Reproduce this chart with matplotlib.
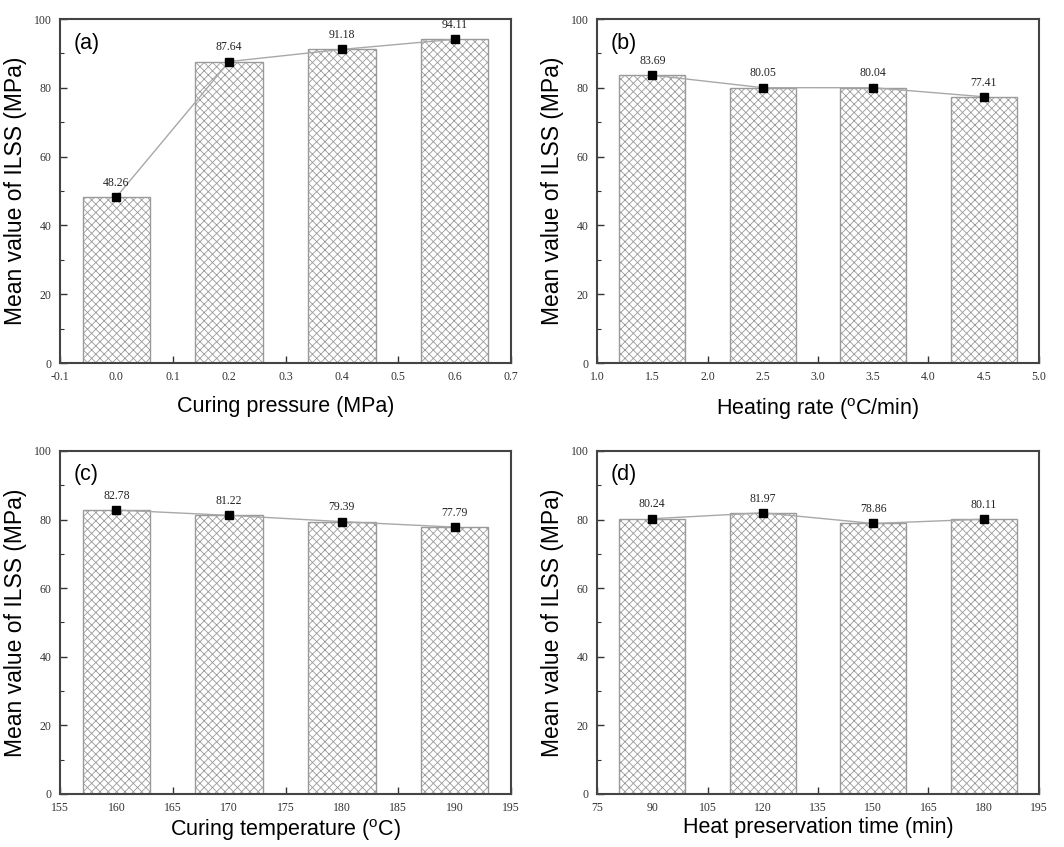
import matplotlib
matplotlib.use('Agg')
import matplotlib.pyplot as plt
from matplotlib.ticker import MultipleLocator, FormatStrFormatter

plt.rcParams['mathtext.fontset'] = 'custom'
plt.rcParams['mathtext.rm'] = 'Liberation Sans'
plt.rcParams['hatch.linewidth'] = 0.6

# data for the four panels
pressure = [0.0, 0.2, 0.4, 0.6]
ilss_pressure = [48.26, 87.64, 91.18, 94.11]

heat_rate = [1.5, 2.5, 3.5, 4.5]
ilss_rate = [83.69, 80.05, 80.04, 77.41]

cure_temp = [160, 170, 180, 190]
ilss_temp = [82.78, 81.22, 79.39, 77.79]

hold_time = [90, 120, 150, 180]
ilss_time = [80.24, 81.97, 78.86, 80.11]

panels = [
    ('(a)', pressure, ilss_pressure, 'Curing pressure (MPa)', (-0.1, 0.7), 0.1, 0.12, '%.1f'),
    ('(b)', heat_rate, ilss_rate, r'Heating rate ($^{\rm o}$C/min)', (1.0, 5.0), 0.5, 0.6, '%.1f'),
    ('(c)', cure_temp, ilss_temp, r'Curing temperature ($^{\rm o}$C)', (155, 195), 5, 6, '%d'),
    ('(d)', hold_time, ilss_time, 'Heat preservation time (min)', (75, 195), 15, 18, '%d'),
]

# axes boxes in figure fractions
boxes = [
    [0.0564, 0.5714, 0.4239, 0.4061],
    [0.5611, 0.5714, 0.4154, 0.4061],
    [0.0564, 0.0626, 0.4239, 0.4050],
    [0.5611, 0.0626, 0.4154, 0.4050],
]
xpads = [9, 9, 2, 2]

fig = plt.figure(figsize=(10.64, 8.47), dpi=100)

for (lab, x, y, xlabel, xlim, step, width, fmt), box, xpad in zip(panels, boxes, xpads):
    ax = fig.add_axes(box)
    ax.bar(x, y, width=width, color='white', edgecolor='#9a9a9a',
           hatch='xxxx', linewidth=1.0, zorder=2)
    ax.plot(x, y, color='#a8a8a8', linewidth=1.0, marker='s',
            markersize=5.5, markerfacecolor='black', markeredgecolor='black', zorder=3)
    for xi, yi in zip(x, y):
        ax.text(xi, yi + 2.4, '%.2f' % yi, ha='center', va='bottom',
                fontsize=8.5, family='Liberation Serif', color='#222222')
    ax.set_xlim(*xlim)
    ax.set_ylim(0, 100)
    ax.xaxis.set_major_locator(MultipleLocator(step))
    ax.xaxis.set_minor_locator(MultipleLocator(step / 2))
    ax.xaxis.set_major_formatter(FormatStrFormatter(fmt))
    ax.yaxis.set_major_locator(MultipleLocator(20))
    ax.yaxis.set_minor_locator(MultipleLocator(10))
    ax.tick_params(which='both', direction='in', top=False, right=False,
                   labelsize=8.5, colors='#333333', pad=6)
    ax.tick_params(which='major', length=5, width=1.0)
    ax.tick_params(which='minor', length=3, width=0.8)
    for lbl in ax.get_xticklabels() + ax.get_yticklabels():
        lbl.set_family('Liberation Serif')
    for sp in ax.spines.values():
        sp.set_color('#444444')
        sp.set_linewidth(1.5)
    ax.set_xlabel(xlabel, fontsize=15.5, family='Liberation Sans', labelpad=xpad)
    ax.set_ylabel('Mean value of ILSS (MPa)', fontsize=16.5, family='Liberation Sans', labelpad=5)
    ax.text(0.03, 0.93, lab, transform=ax.transAxes, fontsize=15.5,
            family='Liberation Sans', va='center', ha='left')

fig.savefig('out.png', dpi=100)
